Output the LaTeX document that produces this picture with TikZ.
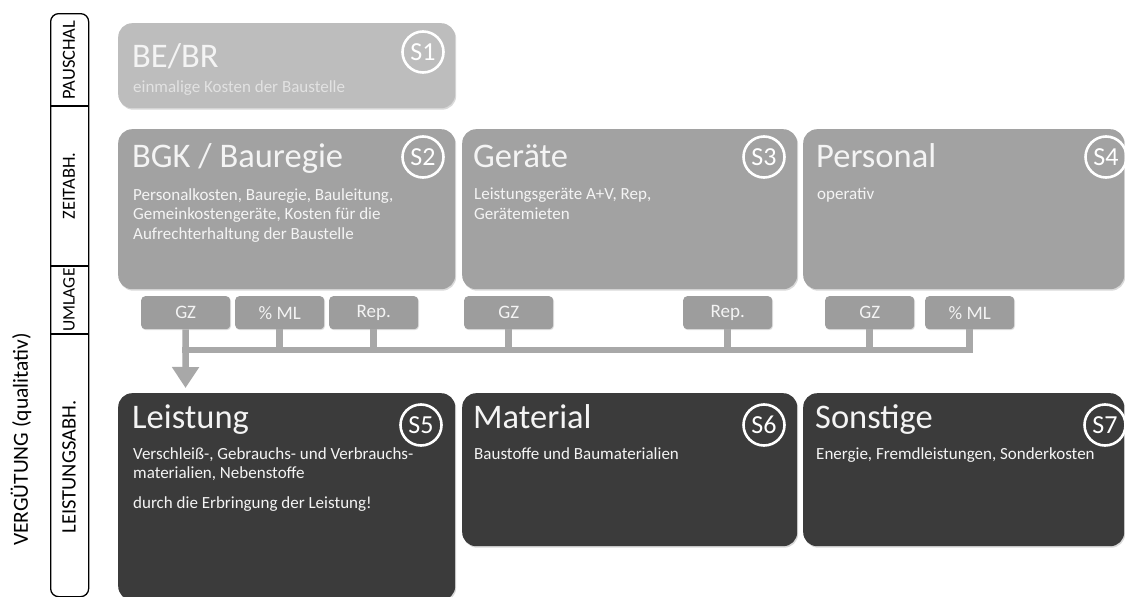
\documentclass[tikz,border=0pt]{standalone}
\usepackage{fontspec}
\setmainfont{Carlito}
\usetikzlibrary{shadows,arrows.meta}
\definecolor{boxA}{HTML}{BDBDBD}
\definecolor{boxB}{HTML}{A2A2A2}
\definecolor{boxC}{HTML}{3B3B3B}
\definecolor{tagC}{HTML}{9D9D9D}
\definecolor{lineC}{HTML}{A8A8A8}
\definecolor{txtC}{HTML}{F4F4F4}
\definecolor{subC}{HTML}{E2E2E2}
\newcommand\fsz[2]{\fontsize{#1}{#2}\selectfont}
\begin{document}
\begin{tikzpicture}[x=1pt,y=-1pt,
  panel/.style={anchor=north west, inner sep=0pt, rounded corners=14pt,
    drop shadow={opacity=0.3, shadow xshift=1pt, shadow yshift=-1.5pt}},
  tag/.style={anchor=north west, inner sep=0pt, rounded corners=4pt, fill=tagC,
    minimum width=89pt, minimum height=33pt, text=txtC, font=\fsz{19}{19},
    drop shadow={opacity=0.25, shadow xshift=0.8pt, shadow yshift=-1pt}},
  badge/.style={circle, draw=white, line width=2.6pt, inner sep=0pt,
    minimum size=41pt, text=white, font=\fsz{26}{26}},
  ttl/.style={anchor=base west, inner sep=0pt, text=txtC, font=\fsz{34.5}{34.5}},
  bodytxt/.style={anchor=north west, inner sep=0pt, align=left, text=txtC, font=\fsz{17}{19.5}},
  bus/.style={draw=lineC, line width=6.5pt},
  lab/.style={rotate=90, inner sep=0pt, font=\fsz{18.5}{18.5}, text=black}
]
\useasboundingbox (0,0) rectangle (1125,597);

% left bar
\node[anchor=north west, draw=black, line width=1.3pt, rounded corners=8pt,
  minimum width=38pt, minimum height=583pt, inner sep=0pt] (bar) at (50,13) {};
\draw[line width=1.3pt] (50,106) -- (88,106);
\draw[line width=1.3pt] (50,266) -- (88,266);
\draw[line width=1.3pt] (50,334) -- (88,334);
\node[lab] (l1) at (69,60) {PAUSCHAL};
\node[lab] (l2) at (69,186) {ZEITABH.};
\node[lab, font=\fsz{17.5}{17.5}] (l3) at (69,300) {UMLAGE};
\node[lab, font=\fsz{20.5}{20.5}] (l4) at (69,467) {LEISTUNGSABH.};
\node[lab, anchor=east, font=\fsz{21.5}{21.5}] (verg) at (21,333) {VERGÜTUNG (qualitativ)};

% tags and connectors
\coordinate (busL) at (185.5,350);
\coordinate (tip) at (185.5,388);
\node[tag] (t1) at (141,296) {GZ};
\node[tag] (t2) at (235,296) {\% ML};
\node[tag] (t3) at (329,296) {Rep.};
\node[tag] (t4) at (464,296) {GZ};
\node[tag] (t5) at (683,296) {Rep.};
\node[tag] (t6) at (825,296) {GZ};
\node[tag] (t7) at (925,296) {\% ML};
\draw[bus, line cap=rect] (busL) -- (busL -| t7.south);
\foreach \t in {t2,t3,t4,t5,t6,t7}{
  \draw[bus] (\t.south) -- (\t.south |- busL);
}
\draw[bus, -{Triangle[width=26pt,length=21pt]}] (t1.south) -- (tip);

% S1
\node[panel, fill=boxA, minimum width=337pt, minimum height=85pt] (s1) at (118,23) {};
\node[ttl] (s1t) at (132,67) {BE/BR};
\node[anchor=base west, inner sep=0pt, text=subC, font=\fsz{17}{17}] (s1b) at (133,92) {einmalige Kosten der Baustelle};
\node[badge] (b1) at (423,52) {S1};

% row 2
\node[panel, fill=boxB, minimum width=337pt, minimum height=160pt] (s2) at (118,129) {};
\node[panel, fill=boxB, minimum width=335pt, minimum height=160pt] (s3) at (462,129) {};
\node[panel, fill=boxB, minimum width=321pt, minimum height=160pt] (s4) at (803,129) {};
\node[ttl] (s2t) at (132,167) {BGK / Bauregie};
\node[ttl] (s3t) at (473,167) {Geräte};
\node[ttl] (s4t) at (816,167) {Personal};
\node[bodytxt] (s2b) at (133,188) {Personalkosten, Bauregie, Bauleitung,\\Gemeinkostengeräte, Kosten für die\\Aufrechterhaltung der Baustelle};
\node[bodytxt] (s3b) at (474,188) {Leistungsgeräte A+V, Rep,\\Gerätemieten};
\node[bodytxt] (s4b) at (817,188) {operativ};
\node[badge] (b2) at (423,157) {S2};
\node[badge] (b3) at (764,157) {S3};
\node[badge] (b4) at (1106,157) {S4};

% row 3
\node[panel, fill=boxC, minimum width=337pt, minimum height=207pt] (s5) at (118,393) {};
\node[panel, fill=boxC, minimum width=335pt, minimum height=153pt] (s6) at (462,393) {};
\node[panel, fill=boxC, minimum width=321pt, minimum height=153pt] (s7) at (803,393) {};
\node[ttl] (s5t) at (132,428) {Leistung};
\node[ttl] (s6t) at (473,428) {Material};
\node[ttl] (s7t) at (815,428) {Sonstige};
\node[bodytxt] (s5b) at (133,447) {Verschleiß-, Gebrauchs- und Verbrauchs-\\materialien, Nebenstoffe\\[10pt]durch die Erbringung der Leistung!};
\node[bodytxt] (s6b) at (474,447) {Baustoffe und Baumaterialien};
\node[bodytxt] (s7b) at (816,447) {Energie, Fremdleistungen, Sonderkosten};
\node[badge] (b5) at (421,425) {S5};
\node[badge] (b6) at (764,425) {S6};
\node[badge] (b7) at (1105,425) {S7};
\end{tikzpicture}
\end{document}
